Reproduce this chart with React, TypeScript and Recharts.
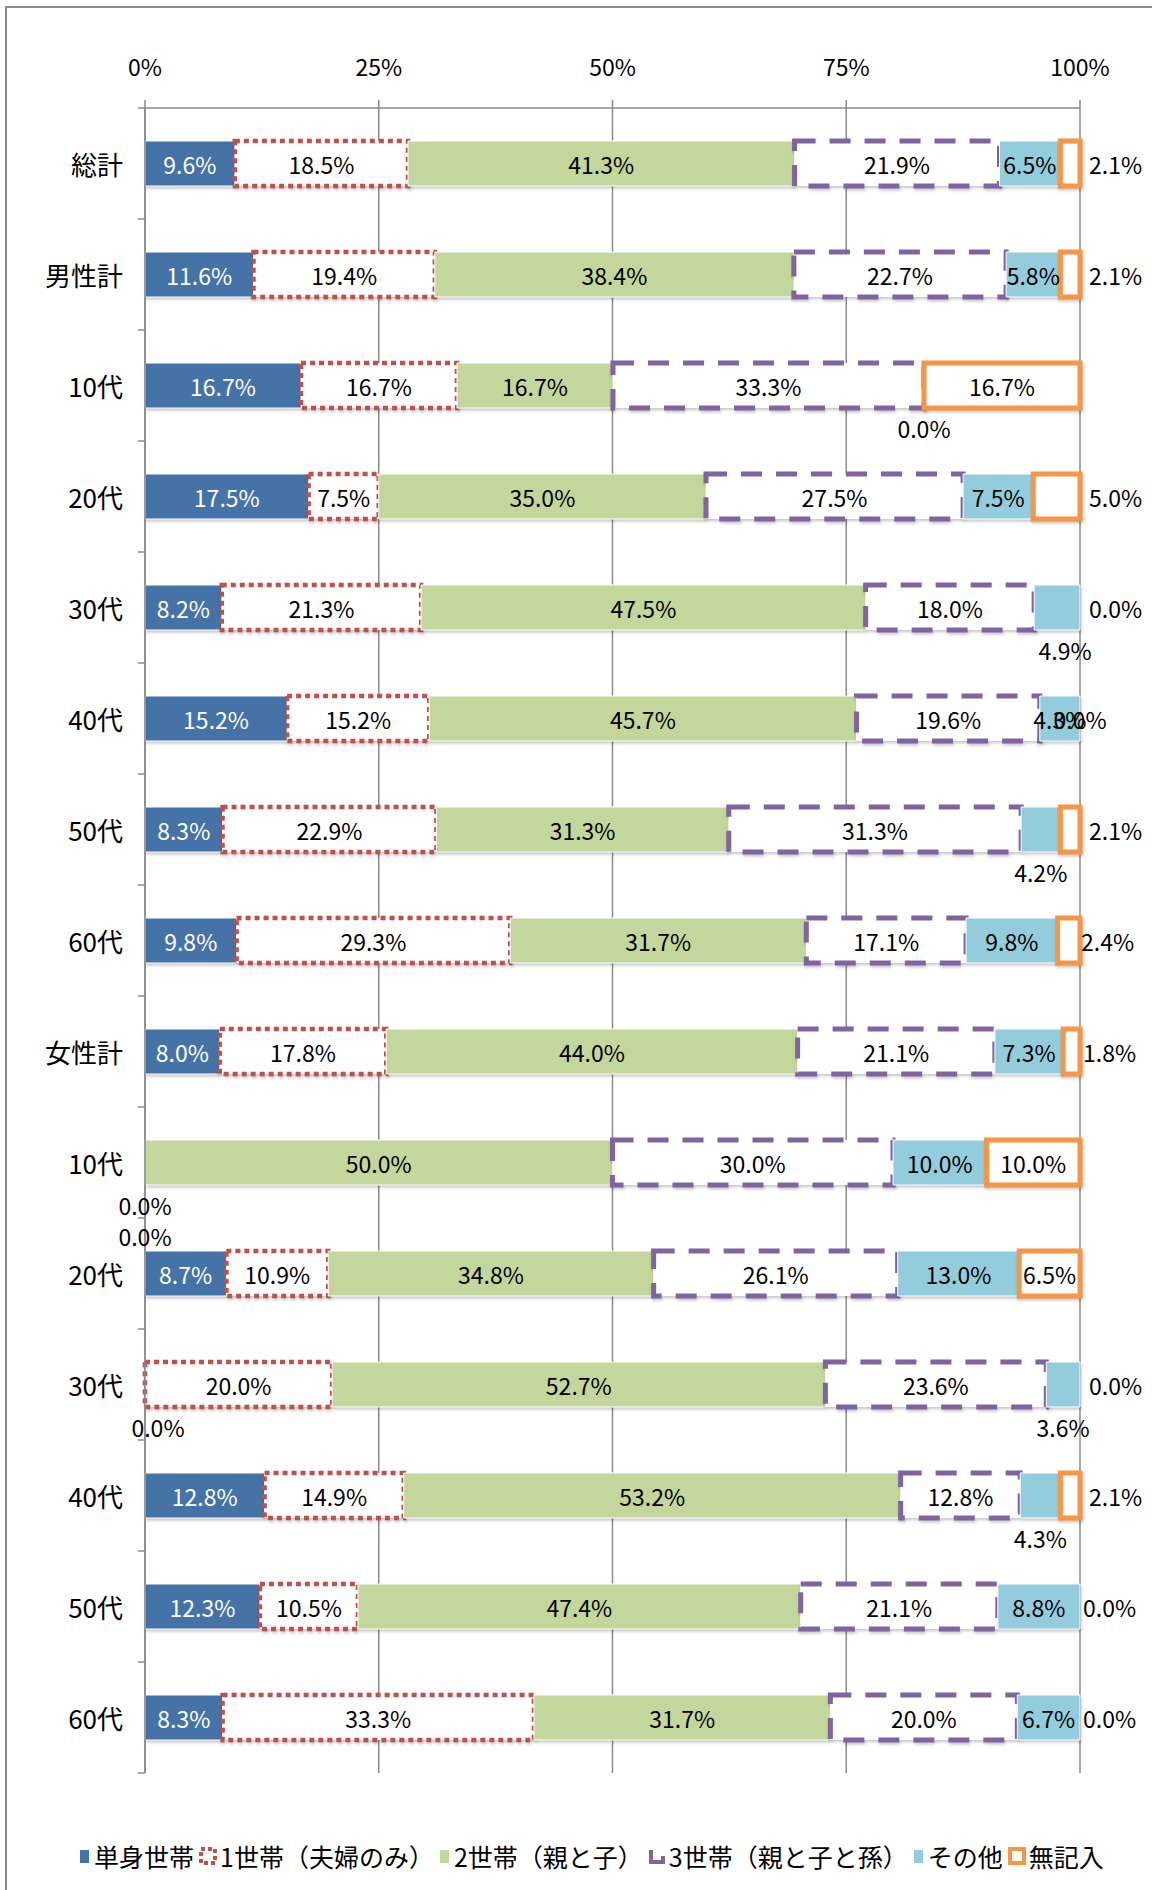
import { BarChart, Bar, XAxis, YAxis, CartesianGrid, LabelList } from "recharts";

// 回答カテゴリ（上から順）
const categories = [
  "総計", "男性計", "10代", "20代", "30代", "40代", "50代", "60代",
  "女性計", "10代", "20代", "30代", "40代", "50代", "60代",
];

// 各世帯構成の割合（%）
const tanshin = [9.6, 11.6, 16.7, 17.5, 8.2, 15.2, 8.3, 9.8, 8.0, 0.0, 8.7, 0.0, 12.8, 12.3, 8.3];
const fuufu = [18.5, 19.4, 16.7, 7.5, 21.3, 15.2, 22.9, 29.3, 17.8, 0.0, 10.9, 20.0, 14.9, 10.5, 33.3];
const oyako = [41.3, 38.4, 16.7, 35.0, 47.5, 45.7, 31.3, 31.7, 44.0, 50.0, 34.8, 52.7, 53.2, 47.4, 31.7];
const sansedai = [21.9, 22.7, 33.3, 27.5, 18.0, 19.6, 31.3, 17.1, 21.1, 30.0, 26.1, 23.6, 12.8, 21.1, 20.0];
const sonota = [6.5, 5.8, 0.0, 7.5, 4.9, 4.3, 4.2, 9.8, 7.3, 10.0, 13.0, 3.6, 4.3, 8.8, 6.7];
const mukinyu = [2.1, 2.1, 16.7, 5.0, 0.0, 0.0, 2.1, 2.4, 1.8, 10.0, 6.5, 0.0, 2.1, 0.0, 0.0];

const xTicks = [0, 0.25, 0.5, 0.75, 1];

const seriesValues = [tanshin, fuufu, oyako, sansedai, sonota, mukinyu];

const data = categories.map((name, i) => ({
  name,
  tanshin: tanshin[i],
  fuufu: fuufu[i],
  oyako: oyako[i],
  sansedai: sansedai[i],
  sonota: sonota[i],
  mukinyu: mukinyu[i],
}));

const W = 1152;
const H = 1890;
const PLOT_L = 145;
const PLOT_R = 1080;
const PLOT_T = 108;
const PLOT_B = 1773;
const BAND = (PLOT_B - PLOT_T) / categories.length;
const FONT = '"Noto Sans CJK JP", "Noto Sans", sans-serif';
const GRID = "#8a8a8a";

// 小さい値のラベルをバーの外に出す（行-系列）
const labelPlace: Record<string, { mode: string; dx?: number; dy?: number }> = {
  "0-5": { mode: "right" },
  "1-5": { mode: "right" },
  "2-4": { mode: "below" },
  "3-5": { mode: "right" },
  "4-4": { mode: "below", dx: 8 },
  "4-5": { mode: "right" },
  "6-4": { mode: "below" },
  "6-5": { mode: "right" },
  "7-5": { mode: "right", dx: -8 },
  "8-5": { mode: "right", dx: -6 },
  "9-0": { mode: "below" },
  "9-1": { mode: "below", dy: 31 },
  "11-0": { mode: "below", dx: 13 },
  "11-4": { mode: "below" },
  "11-5": { mode: "right" },
  "12-4": { mode: "below" },
  "12-5": { mode: "right" },
  "13-5": { mode: "right", dx: -6 },
  "14-5": { mode: "right", dx: -6 },
};

const series = [
  { key: "tanshin", name: "単身世帯", fill: "#4573a7", stroke: "#ffffff", width: 1, dash: undefined, text: "#ffffff" },
  { key: "fuufu", name: "1世帯（夫婦のみ）", fill: "#ffffff", stroke: "#c0504d", width: 4.5, dash: "5 4", text: "#000000" },
  { key: "oyako", name: "2世帯（親と子）", fill: "#c3d69b", stroke: "#ffffff", width: 1, dash: undefined, text: "#000000" },
  { key: "sansedai", name: "3世帯（親と子と孫）", fill: "#ffffff", stroke: "#8064a2", width: 5, dash: "21 14", text: "#000000" },
  { key: "sonota", name: "その他", fill: "#93cddd", stroke: "#ffffff", width: 1, dash: undefined, text: "#000000" },
  { key: "mukinyu", name: "無記入", fill: "#ffffff", stroke: "#f79646", width: 5, dash: undefined, text: "#000000" },
];

function oneLabel(row: number, si: number, x: number, y: number, w: number, h: number) {
  const value = seriesValues[si][row];
  const p = labelPlace[`${row}-${si}`];
  let tx = x + w / 2;
  let ty = y + h / 2;
  let anchor: "middle" | "start" = "middle";
  let fill = series[si].text;
  if (p) {
    fill = "#000000";
    if (p.mode === "right") {
      tx = x + w + 9;
      anchor = "start";
    } else if (p.mode === "below") {
      ty = y + h / 2 + 42;
    }
    tx += p.dx ?? 0;
    ty += p.dy ?? 0;
  }
  return (
    <text
      key={`${row}-${si}`}
      x={tx}
      y={ty}
      textAnchor={anchor}
      dominantBaseline="central"
      fill={fill}
      fontSize={23}
      fontFamily={FONT}
    >
      {value.toFixed(1)}%
    </text>
  );
}

// 0% の区間は描かれないので、隣のバーから一緒にラベルを出す
function makeLabel(si: number) {
  return (props: any) => {
    const vb = props.viewBox || {};
    const x = props.x ?? vb.x;
    const y = props.y ?? vb.y;
    const w = props.width ?? vb.width ?? 0;
    const h = props.height ?? vb.height ?? 0;
    const row = Math.floor((y + h / 2 - PLOT_T) / BAND);
    if (row < 0 || row >= categories.length) return null;
    const out = [oneLabel(row, si, x, y, w, h)];
    let leading = true;
    for (let k = 0; k < si; k++) if (seriesValues[k][row] !== 0) leading = false;
    if (leading) {
      for (let k = 0; k < si; k++) out.push(oneLabel(row, k, x, y, 0, h));
    }
    for (let k = si + 1; k < seriesValues.length && seriesValues[k][row] === 0; k++) {
      out.push(oneLabel(row, k, x + w, y, 0, h));
    }
    return <g>{out}</g>;
  };
}

function CategoryTick(props: any) {
  const { y, payload, index } = props;
  return (
    <g>
      <text
        x={PLOT_L - 22}
        y={y}
        textAnchor="end"
        dominantBaseline="central"
        fill="#000"
        fontSize={26}
        fontFamily={FONT}
      >
        {payload.value}
      </text>
      <line x1={PLOT_L - 7} x2={PLOT_L} y1={y - BAND / 2} y2={y - BAND / 2} stroke={GRID} strokeWidth={1.5} />
      {index === categories.length - 1 && (
        <line x1={PLOT_L - 7} x2={PLOT_L} y1={y + BAND / 2} y2={y + BAND / 2} stroke={GRID} strokeWidth={1.5} />
      )}
    </g>
  );
}

function LegendIcon({ i }: { i: number }) {
  const s = series[i];
  if (i === 1 || i === 5) {
    return (
      <svg width={18} height={18}>
        <rect x={2} y={2} width={14} height={14} fill="#fff" stroke={s.stroke} strokeWidth={4} strokeDasharray={i === 1 ? "4 3" : undefined} />
      </svg>
    );
  }
  if (i === 3) {
    return (
      <svg width={18} height={18}>
        <path d="M3 3 V15 H15 V9" fill="none" stroke={s.stroke} strokeWidth={4} />
      </svg>
    );
  }
  return (
    <svg width={12} height={18}>
      <rect x={1} y={3} width={9} height={13} fill={s.fill} />
    </svg>
  );
}

export default function App() {
  return (
    <div style={{ position: "absolute", left: 0, top: 0, width: W, height: H, overflow: "hidden", background: "#fff" }}>
      <style>{`.recharts-bar-rectangle path{filter:drop-shadow(1px 2px 1.5px rgba(0,0,0,0.22));}`}</style>
      <div
        style={{
          position: "absolute",
          left: 5,
          top: 6,
          width: W,
          height: H,
          borderLeft: "2px solid #8c8c8c",
          borderTop: "2px solid #8c8c8c",
        }}
      />
      <div style={{ position: "absolute", left: 0, top: 0 }}>
        <BarChart
          width={W}
          height={H}
          data={data}
          layout="vertical"
          stackOffset="expand"
          barSize={45}
          margin={{ top: 6, right: W - PLOT_R, bottom: H - PLOT_B, left: 0 }}
        >
          <CartesianGrid horizontal={false} stroke={GRID} strokeWidth={1.5} />
          <XAxis
            type="number"
            orientation="top"
            domain={[0, 1]}
            ticks={xTicks}
            height={PLOT_T - 6}
            tickFormatter={(v: number) => `${Math.round(v * 100)}%`}
            tickSize={8}
            tickMargin={24}
            axisLine={{ stroke: GRID, strokeWidth: 1.5 }}
            tickLine={{ stroke: GRID, strokeWidth: 1.5 }}
            tick={{ fill: "#000", fontSize: 23, fontFamily: FONT }}
          />
          <YAxis
            type="category"
            dataKey="name"
            width={PLOT_L}
            interval={0}
            tickLine={false}
            axisLine={{ stroke: GRID, strokeWidth: 1.5 }}
            tick={<CategoryTick />}
          />
          {series.map((s, si) => (
            <Bar
              key={s.key}
              dataKey={s.key}
              name={s.name}
              stackId="a"
              fill={s.fill}
              stroke={s.stroke}
              strokeWidth={s.width}
              strokeDasharray={s.dash}
              isAnimationActive={false}
            >
              <LabelList dataKey={s.key} content={makeLabel(si)} />
            </Bar>
          ))}
        </BarChart>
      </div>
      <div
        style={{
          position: "absolute",
          left: 79,
          top: 1838,
          display: "flex",
          alignItems: "center",
          fontFamily: FONT,
          fontSize: 25,
          color: "#000",
          whiteSpace: "nowrap",
        }}
      >
        {series.map((s, i) => (
          <div key={s.key} style={{ display: "flex", alignItems: "center", marginRight: 5 }}>
            <LegendIcon i={i} />
            <span style={{ marginLeft: 3 }}>{s.name}</span>
          </div>
        ))}
      </div>
    </div>
  );
}
